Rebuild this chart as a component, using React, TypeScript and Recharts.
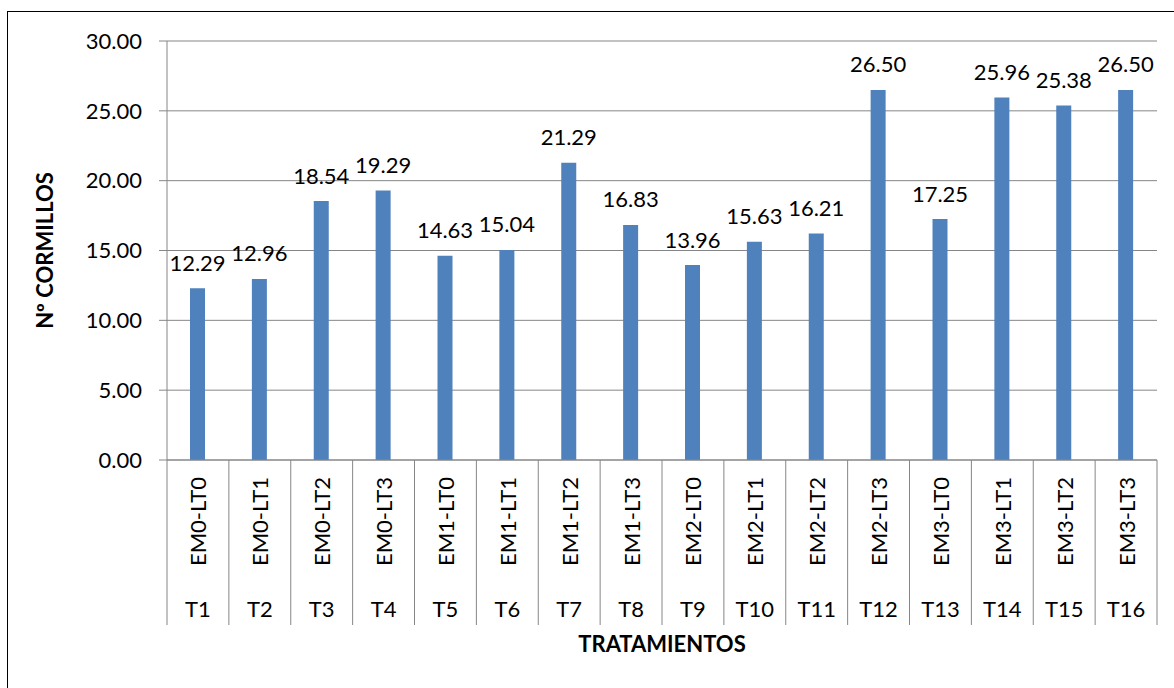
import React from 'react';
import { BarChart, Bar, XAxis, YAxis, CartesianGrid, LabelList } from 'recharts';

const codes = ['EM0-LT0', 'EM0-LT1', 'EM0-LT2', 'EM0-LT3', 'EM1-LT0', 'EM1-LT1', 'EM1-LT2', 'EM1-LT3',
  'EM2-LT0', 'EM2-LT1', 'EM2-LT2', 'EM2-LT3', 'EM3-LT0', 'EM3-LT1', 'EM3-LT2', 'EM3-LT3'];
const treatments = ['T1', 'T2', 'T3', 'T4', 'T5', 'T6', 'T7', 'T8', 'T9', 'T10', 'T11', 'T12', 'T13', 'T14', 'T15', 'T16'];
const cormillos = [12.29, 12.96, 18.54, 19.29, 14.63, 15.04, 21.29, 16.83, 13.96, 15.63, 16.21, 26.5, 17.25, 25.96, 25.38, 26.5];
const yTicks = [0, 5, 10, 15, 20, 25, 30];

const data = codes.map((code, i) => ({ code, t: treatments[i], value: cormillos[i] }));

const W = 1174;
const H = 688;
const plotLeft = 167;
const plotRight = 1157;
const plotTop = 41;
const plotBottom = 460;
const band = (plotRight - plotLeft) / codes.length;
const font = 'Lato, "Open Sans", sans-serif';
const gridColor = '#868686';

const CategoryTick = (props: any) => {
  const { x, y, index } = props;
  const last = index === codes.length - 1;
  return (
    <g>
      <line x1={x - band / 2} y1={y} x2={x - band / 2} y2={y + 165} stroke={gridColor} strokeWidth={1} />
      {last && <line x1={x + band / 2} y1={y} x2={x + band / 2} y2={y + 165} stroke={gridColor} strokeWidth={1} />}
      <text
        x={0}
        y={0}
        transform={`translate(${x},${y + 17}) rotate(-90)`}
        textAnchor="end"
        dominantBaseline="central"
        fontSize={22}
        fontFamily={font}
        fill="#000"
      >
        {codes[index]}
      </text>
      <text x={x} y={y + 148} textAnchor="middle" dominantBaseline="central" fontSize={22} fontFamily={font} fill="#000">
        {treatments[index]}
      </text>
    </g>
  );
};

const ValueLabel = (props: any) => {
  const { x, y, width, value } = props;
  return (
    <text x={x + width / 2} y={y - 26} textAnchor="middle" dominantBaseline="central" fontSize={22} fontFamily={font} fill="#000">
      {Number(value).toFixed(2)}
    </text>
  );
};

export default function App() {
  return (
    <div style={{ position: 'absolute', left: 0, top: 0, width: W, height: H, background: '#fff', overflow: 'hidden' }}>
      <div style={{ position: 'absolute', left: 7, top: 11, width: 1200, height: 720, border: '1px solid #000' }} />
      <div style={{ position: 'absolute', left: 0, top: 0 }}>
        <BarChart
          width={W}
          height={H}
          data={data}
          margin={{ top: plotTop, right: W - plotRight, left: 0, bottom: 0 }}
          barSize={15}
        >
          <CartesianGrid vertical={false} stroke={gridColor} strokeWidth={1} />
          <XAxis
            dataKey="code"
            height={H - plotBottom}
            interval={0}
            tick={<CategoryTick />}
            tickLine={false}
            tickSize={0}
            tickMargin={0}
            axisLine={{ stroke: gridColor }}
            label={{ value: 'TRATAMIENTOS', position: 'insideTop', offset: 176, fontSize: 22, fontWeight: 700, fontFamily: font, fill: '#000' }}
          />
          <YAxis
            width={plotLeft}
            domain={[0, 30]}
            ticks={yTicks}
            interval={0}
            tickFormatter={(v: number) => v.toFixed(2)}
            tick={{ fontSize: 22, fontFamily: font, fill: '#000' }}
            tickSize={8}
            tickMargin={17}
            tickLine={{ stroke: gridColor }}
            axisLine={{ stroke: gridColor }}
            label={{ value: 'Nº CORMILLOS', angle: -90, position: 'insideLeft', offset: 45, style: { textAnchor: 'middle' }, fontSize: 22, fontWeight: 700, fontFamily: font, fill: '#000' }}
          />
          <Bar dataKey="value" fill="#4F81BD" isAnimationActive={false}>
            <LabelList dataKey="value" content={<ValueLabel />} />
          </Bar>
        </BarChart>
      </div>
    </div>
  );
}
